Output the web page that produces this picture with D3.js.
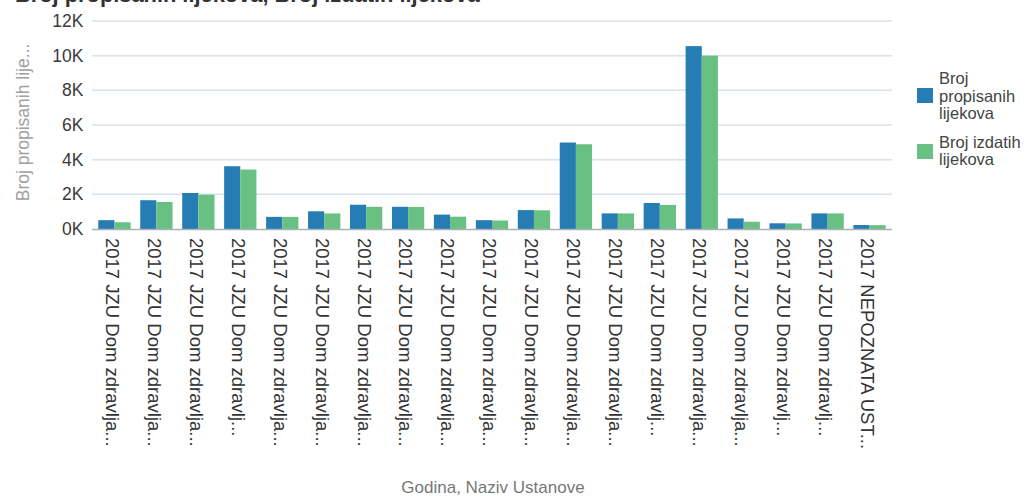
<!DOCTYPE html>
<html>
<head>
<meta charset="utf-8">
<script src="https://cdn.jsdelivr.net/npm/d3@7/dist/d3.min.js"></script>
<style>
  html, body { margin: 0; padding: 0; background: #fff; }
  svg { display: block; font-family: "Liberation Sans", Arial, sans-serif; }
</style>
</head>
<body>
<svg id="chart" width="1036" height="496"></svg>
<script>
const categories = [
  "2017 JZU Dom zdravlja...", "2017 JZU Dom zdravlja...", "2017 JZU Dom zdravlja...",
  "2017 JZU Dom zdravlj...", "2017 JZU Dom zdravlja...", "2017 JZU Dom zdravlja...",
  "2017 JZU Dom zdravlja...", "2017 JZU Dom zdravlja...", "2017 JZU Dom zdravlja...",
  "2017 JZU Dom zdravlja...", "2017 JZU Dom zdravlja...", "2017 JZU Dom zdravlja...",
  "2017 JZU Dom zdravlja...", "2017 JZU Dom zdravlj...", "2017 JZU Dom zdravlja...",
  "2017 JZU Dom zdravlja...", "2017 JZU Dom zdravlj...", "2017 JZU Dom zdravlj...",
  "2017 NEPOZNATA UST..."
];
const propisanih = [510, 1660, 2080, 3620, 700, 1020, 1400, 1280, 830, 510, 1090, 4990, 900, 1500, 10550, 610, 330, 900, 230];
const izdatih   = [390, 1560, 1980, 3430, 700, 900, 1280, 1270, 710, 490, 1080, 4890, 900, 1390, 10000, 420, 320, 900, 220];
const seriesNames = ["Broj propisanih lijekova", "Broj izdatih lijekova"];
const legendLines = [["Broj", "propisanih", "lijekova"], ["Broj izdatih", "lijekova"]];
const yTicks = [0, 2000, 4000, 6000, 8000, 10000, 12000];
const colors = ["#267db3", "#68c182"];
const titleText = "Broj propisanih lijekova, Broj izdatih lijekova";
const yTitle = "Broj propisanih lije...";
const xTitle = "Godina, Naziv Ustanove";

const svg = d3.select("#chart");
const plotLeft = 92, plotRight = 892, plotTop = 21, plotBottom = 229;

const x0 = d3.scaleBand().domain(d3.range(categories.length)).range([plotLeft, plotRight])
  .paddingInner(0.23).paddingOuter(0.15);
const x1 = d3.scaleBand().domain([0, 1]).range([0, x0.bandwidth()]);
const y = d3.scaleLinear().domain([0, 12000]).range([plotBottom, plotTop]);

// grid lines
svg.append("g").selectAll("line").data(yTicks.filter(d => d > 0)).join("line")
  .attr("x1", plotLeft).attr("x2", plotRight)
  .attr("y1", d => y(d)).attr("y2", d => y(d))
  .attr("stroke", "#d8e0e8").attr("stroke-width", 1.5);

// y axis labels
const yAxis = d3.axisLeft(y).tickValues(yTicks).tickSize(0).tickPadding(8)
  .tickFormat(d => (d / 1000) + "K");
const yg = svg.append("g").attr("transform", `translate(${plotLeft},0)`).call(yAxis);
yg.select(".domain").remove();
yg.selectAll("text").attr("font-size", 17.5).attr("fill", "#3a3a3a")
  .attr("font-family", "'Liberation Sans', Arial, sans-serif").attr("dx", -0.5);

// bars
const groups = svg.append("g").selectAll("g").data(categories.map((c, i) => i)).join("g")
  .attr("transform", i => `translate(${x0(i)},0)`);
groups.selectAll("rect").data(i => [propisanih[i], izdatih[i]]).join("rect")
  .attr("x", (d, j) => x1(j)).attr("width", x1.bandwidth())
  .attr("y", d => y(d)).attr("height", d => y(0) - y(d))
  .attr("fill", (d, j) => colors[j]);

// x axis line
svg.append("line").attr("x1", plotLeft).attr("x2", plotRight).attr("y1", plotBottom + 0.5).attr("y2", plotBottom + 0.5)
  .attr("stroke", "#a9b0b6").attr("stroke-width", 1.5);

// x tick labels (rotated)
const xAxis = d3.axisBottom(x0).tickSize(0).tickFormat(i => categories[i]);
const xg = svg.append("g").attr("transform", `translate(0,${plotBottom})`).call(xAxis);
xg.select(".domain").remove();
xg.selectAll("text")
  .attr("font-size", 18.5).attr("fill", "#333")
  .attr("font-family", "'Liberation Sans', Arial, sans-serif")
  .attr("text-anchor", "start")
  .attr("transform", "rotate(90)")
  .attr("x", 9).attr("y", 0).attr("dy", "0.33em")
  .attr("dx", 0);
xg.selectAll(".tick").attr("transform", function() {
  const t = d3.select(this).attr("transform");
  const m = /translate\(([-\d.]+)/.exec(t);
  return `translate(${+m[1] - 2.5},0)`;
});

// title (clipped at the top edge, as in the reference)
const title = svg.append("text").attr("x", 15).attr("y", 2)
  .attr("font-size", 22).attr("font-weight", "bold").attr("fill", "#333").text(titleText);
const tw = title.node().getComputedTextLength();
title.attr("font-size", 22 * 465 / tw);

// y axis title
svg.append("text").attr("transform", `translate(29,${(40 + 205) / 2}) rotate(-90)`)
  .attr("text-anchor", "middle").attr("font-size", 17.5).attr("fill", "#a0a0a0").text(yTitle);

// x axis title
svg.append("text").attr("x", 493).attr("y", 493).attr("text-anchor", "middle")
  .attr("font-size", 17).attr("fill", "#777").text(xTitle);

// legend
const legend = svg.append("g");
const legY = [[78, 96, 113], [142, 159]];
const swY = [88, 144];
seriesNames.forEach((s, i) => {
  legend.append("rect").attr("x", 917).attr("y", swY[i]).attr("width", 16).attr("height", 15)
    .attr("fill", colors[i]);
  legendLines[i].forEach((ln, k) => {
    legend.append("text").attr("x", 939).attr("y", legY[i][k]).attr("dy", "0.35em")
      .attr("font-size", 16.5).attr("fill", "#444").text(ln);
  });
});
</script>
</body>
</html>
